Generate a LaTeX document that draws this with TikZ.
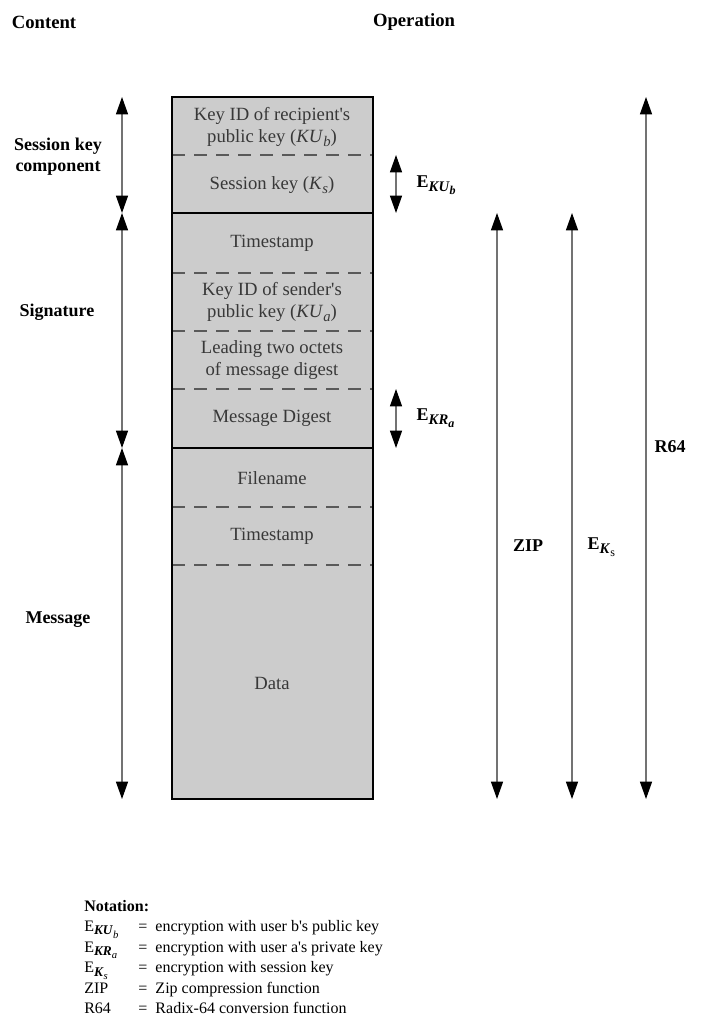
\documentclass[tikz,border=0pt]{standalone}
\usepackage{fontspec}
\setmainfont{Liberation Serif}
\usetikzlibrary{arrows.meta}
\definecolor{fieldgray}{HTML}{CCCCCC}
% subscript at a given size
\newcommand\sub[2][10]{\raisebox{-0.5ex}{\fontsize{#1}{#1}\selectfont #2}}
\newcommand\q{\textquotesingle}
\tikzset{
  head/.style={font=\fontsize{14}{16}\selectfont\bfseries},
  part/.style={font=\fontsize{13.5}{16}\selectfont\bfseries, align=center},
  oplabel/.style={font=\fontsize{13.5}{15}\selectfont\bfseries},
  field/.style={text=black!78, font=\fontsize{14}{16}\selectfont, align=center},
  dimline/.style={draw=black!55, line width=0.9pt,
    {Triangle[width=9pt,length=13pt,color=black]}-{Triangle[width=9pt,length=13pt,color=black]}},
  sepline/.style={line width=1.8pt},
  dashline/.style={draw=black!65, line width=1.1pt, dash pattern=on 10pt off 6.5pt},
}
\begin{document}
\begin{tikzpicture}[x=0.75pt,y=-0.75pt]
  \useasboundingbox (0,0) rectangle (702,1034);
  % headings
  \node[head] (content) at (44,22) {Content};
  \node[head] (operation) at (414,22) {Operation};
  % field boundaries
  \foreach \n/\y in {0/97,1/155,2/213,3/273,4/331,5/389,6/448,7/507,8/565,9/799}{
    \coordinate (L\n) at (172,\y);
    \coordinate (R\n) at (373,\y);
  }
  \coordinate (xc) at (122,0);
  \coordinate (xe) at (396,0);
  \coordinate (xzip) at (497,0);
  \coordinate (xks) at (572,0);
  \coordinate (xr) at (646,0);
  % the message
  \fill[fieldgray] (L0) rectangle (R9);
  \foreach \n in {1,3,4,5,7,8}
    \draw[dashline] (L\n) -- (R\n);
  \foreach \n in {2,6}
    \draw[sepline] (L\n) -- (R\n);
  \draw[sepline] (L0) rectangle (R9);
  \node[field] (kidr) at (272,127) {Key ID of recipient\q s\\public key (\textit{KU}\sub[11]{\textit{b}})};
  \node[field] (skey) at (272,185) {Session key (\textit{K}\sub[11]{\textit{s}})};
  \node[field] (tsig) at (272,243) {Timestamp};
  \node[field] (kids) at (272,302) {Key ID of sender\q s\\public key (\textit{KU}\sub[11]{\textit{a}})};
  \node[field] (lead) at (272,360) {Leading two octets\\of message digest};
  \node[field] (digest) at (272,418) {Message Digest};
  \node[field] (fname) at (272,478) {Filename};
  \node[field] (tmsg) at (272,536) {Timestamp};
  \node[field] (data) at (272,683) {Data};
  % content parts
  \node[part] (skc) at (58,157) {Session key\\component};
  \node[part] (sig) at (57,312) {Signature};
  \node[part] (msg) at (58,620) {Message};
  \begin{scope}[dimline]
    \draw (L0 -| xc) -- (L2 -| xc);
    \draw (L2 -| xc) -- (L6 -| xc);
    \draw (L6 -| xc) -- (L9 -| xc);
    \draw (L1 -| xe) -- (L2 -| xe);
    \draw (L5 -| xe) -- (L6 -| xe);
    \draw (L2 -| xzip) -- (L9 -| xzip);
    \draw (L2 -| xks) -- (L9 -| xks);
    \draw (L0 -| xr) -- (L9 -| xr);
  \end{scope}
  % operations
  \node[oplabel, anchor=west] (ekub) at (412,185) {E\sub[11]{\textit{KU}\sub[9]{\textit{b}}}};
  \node[oplabel, anchor=west] (ekra) at (412,418) {E\sub[11]{\textit{KR}\sub[9]{\textit{a}}}};
  \node[oplabel] (zip) at (528,546) {ZIP};
  \node[oplabel, anchor=west] (eks) at (583,547) {E\sub[11]{\textit{K}\sub[9]{\mdseries s}}};
  \node[oplabel] (r64) at (670,447) {R64};
  % notation
  \node[anchor=north west, inner sep=0pt, font=\fontsize{12}{15}\selectfont] (notation) at (84,897) {%
    \begin{tabular}{@{}l@{\hspace{15pt}=\hspace{6pt}}l@{}}
      \multicolumn{2}{@{}l@{}}{\textbf{Notation:}}\\
      E\sub{\textbf{\textit{KU}}\sub[8]{\textit{b}}} & encryption with user b\q s public key\\
      E\sub{\textbf{\textit{KR}}\sub[8]{\textit{a}}} & encryption with user a\q s private key\\
      E\sub{\textbf{\textit{K}}\sub[8]{\textit{s}}} & encryption with session key\\
      ZIP & Zip compression function\\
      R64 & Radix-64 conversion function
    \end{tabular}};
\end{tikzpicture}
\end{document}
